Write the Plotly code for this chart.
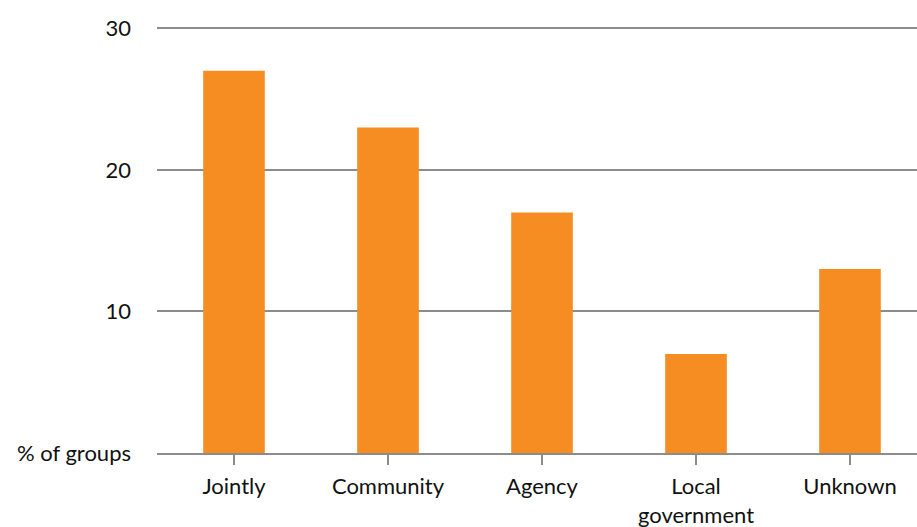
import plotly.graph_objects as go

# Who manages the groups
categories = ["Jointly", "Community", "Agency", "Local<br>government", "Unknown"]
shares = [27, 23, 17, 7, 13]

y_ticks = [0, 10, 20, 30]
y_tick_text = ["% of groups", "10", "20", "30"]

FONT = "Lato"
GRID = "#8c8c8c"

fig = go.Figure(
    go.Bar(
        x=list(range(len(categories))),
        y=shares,
        marker=dict(color="#F68D22", line=dict(width=0)),
        width=0.4,
        hoverinfo="skip",
    )
)

fig.update_layout(
    width=917,
    height=527,
    margin=dict(l=157, r=0, t=27, b=74),
    paper_bgcolor="white",
    plot_bgcolor="white",
    showlegend=False,
    font=dict(family=FONT, size=22, color="#111111"),
    bargap=0.6,
)

fig.update_xaxes(
    tickmode="array",
    tickvals=list(range(len(categories))),
    ticktext=categories,
    range=[-0.5, 4.435],
    showline=True,
    linecolor=GRID,
    linewidth=1.5,
    ticks="outside",
    tickson="boundaries",
    ticklen=10,
    tickcolor=GRID,
    tickwidth=1.5,
    ticklabelstandoff=3,
    showgrid=False,
    zeroline=False,
    fixedrange=True,
)

fig.update_yaxes(
    range=[0, 30.1],
    tickmode="array",
    tickvals=y_ticks,
    ticktext=y_tick_text,
    showgrid=True,
    gridcolor=GRID,
    gridwidth=1.5,
    zeroline=False,
    showline=False,
    ticks="",
    ticklabelstandoff=25,
    fixedrange=True,
)

fig.write_html("out.html")
